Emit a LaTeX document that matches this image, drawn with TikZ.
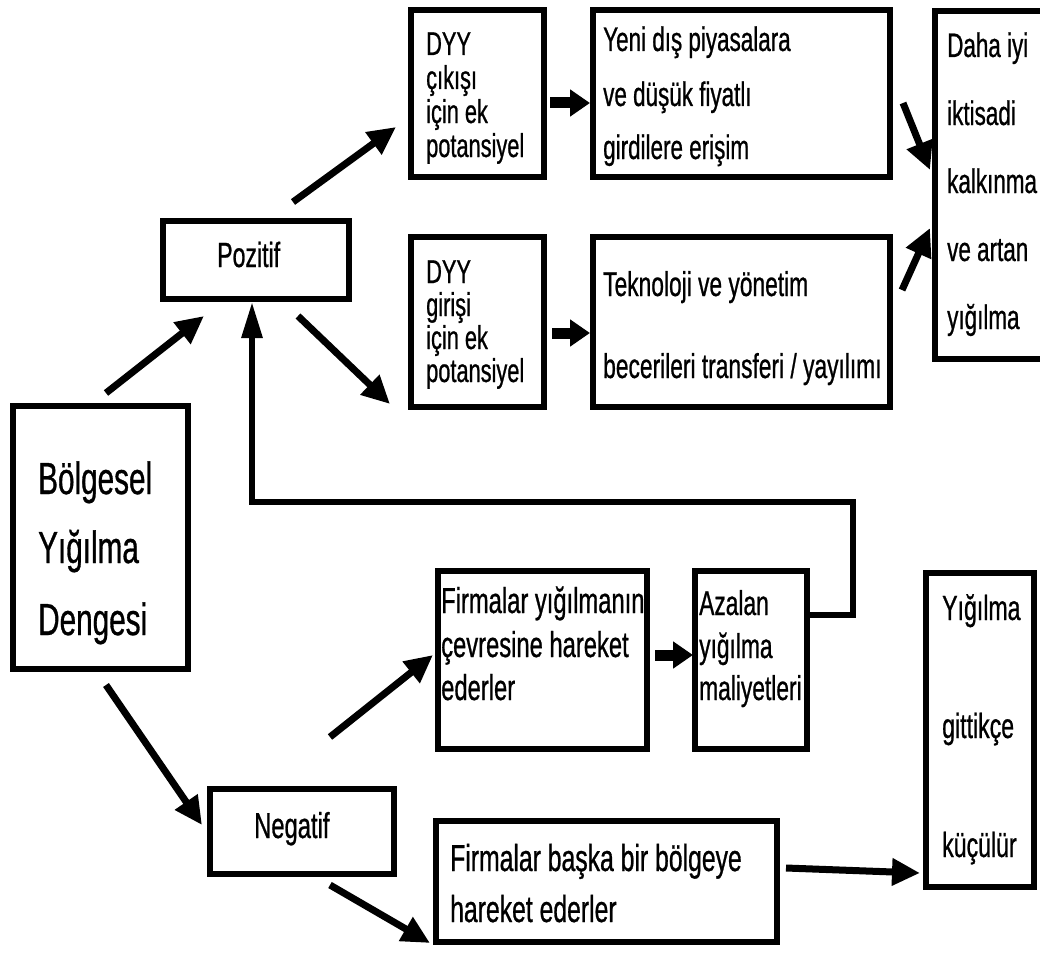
\documentclass[tikz,border=0pt]{standalone}
\usepackage{fontspec}
\setmainfont{Liberation Sans}[FakeStretch=0.66,FakeBold=0.7]
\usetikzlibrary{arrows.meta}
\begin{document}
\begin{tikzpicture}[x=1pt,y=-1pt,
  bx/.style={draw, line width=6pt, inner sep=0pt, minimum width=#1},
  tx/.style={anchor=base west, inner sep=0pt, font=\fontsize{#1pt}{#1pt}\selectfont},
  arr/.style={line width=7pt, -{Triangle[length=28pt,width=26pt]}},
  fat/.style={line width=11pt, -{Triangle[length=20pt,width=26pt]}},
  loopline/.style={line width=6pt, line join=miter, -{Triangle[length=36pt,width=20pt]}}]
\useasboundingbox[fill=white] (0,0) rectangle (1040,963);

% boxes
\node[bx=175pt, minimum height=263pt] (A)  at (100.5,537.5) {};
\node[bx=186pt, minimum height=78pt]  (P)  at (256,260) {};
\node[bx=184pt, minimum height=85pt]  (N)  at (302,831.5) {};
\node[bx=133pt, minimum height=167pt] (C1) at (477.5,93.5) {};
\node[bx=297pt, minimum height=167pt] (Y)  at (741.5,93.5) {};
\node[bx=108pt, minimum height=348pt] (D)  at (989,185) {};
\node[bx=133pt, minimum height=170pt] (G)  at (477.5,322) {};
\node[bx=297pt, minimum height=170pt] (T)  at (741.5,322) {};
\node[bx=209pt, minimum height=178pt] (F1) at (542.5,660) {};
\node[bx=112pt, minimum height=178pt] (Az) at (751,660) {};
\node[bx=341pt, minimum height=121pt] (F2) at (606.5,881.5) {};
\node[bx=108pt, minimum height=314pt] (K)  at (980,730) {};

% texts
\node[tx=45] (a1) at (38,494) {Bölgesel};
\node[tx=45] (a2) at (38,563) {Yığılma};
\node[tx=45] (a3) at (38,635) {Dengesi};
\node[tx=35] (p1) at (217,267) {Pozitif};
\node[tx=36] (n1) at (254,838) {Negatif};
\node[tx=33] (c1) at (426,55) {DYY};
\node[tx=33] (c2) at (426,89) {çıkışı};
\node[tx=33] (c3) at (426,123) {için ek};
\node[tx=33] (c4) at (426,157) {potansiyel};
\node[tx=34] (y1) at (603,51) {Yeni dış piyasalara};
\node[tx=34] (y2) at (603,106) {ve düşük fiyatlı};
\node[tx=34] (y3) at (603,159) {girdilere erişim};
\node[tx=34] (d1) at (947,57) {Daha iyi};
\node[tx=34] (d2) at (947,125) {iktisadi};
\node[tx=34] (d3) at (947,193) {kalkınma};
\node[tx=34] (d4) at (947,261) {ve artan};
\node[tx=34] (d5) at (947,329) {yığılma};
\node[tx=33] (g1) at (426,283) {DYY};
\node[tx=33] (g2) at (426,316) {girişi};
\node[tx=33] (g3) at (426,349) {için ek};
\node[tx=33] (g4) at (426,382) {potansiyel};
\node[tx=34.5] (t1) at (603,296) {Teknoloji ve yönetim};
\node[tx=34.5] (t2) at (603,378) {becerileri transferi / yayılımı};
\node[tx=36] (f1) at (441,613) {Firmalar yığılmanın};
\node[tx=36] (f2) at (441,657) {çevresine hareket};
\node[tx=36] (f3) at (441,700) {ederler};
\node[tx=34.5] (z1) at (699,615) {Azalan};
\node[tx=34.5] (z2) at (699,658) {yığılma};
\node[tx=34.5] (z3) at (699,700) {maliyetleri};
\node[tx=37.5] (h1) at (450,871) {Firmalar başka bir bölgeye};
\node[tx=37.5] (h2) at (450,922) {hareket ederler};
\node[tx=35] (k1) at (942,620) {Yığılma};
\node[tx=35] (k2) at (942,738) {gittikçe};
\node[tx=35] (k3) at (942,857) {küçülür};

% connector end points
\coordinate (AP0) at (106,393);  \coordinate (AP1) at (204,316);
\coordinate (PC0) at (293,202);  \coordinate (PC1) at (396,127);
\coordinate (PG0) at (298,316);  \coordinate (PG1) at (390,404);
\coordinate (CY0) at (550,103);  \coordinate (CY1) at (590,103);
\coordinate (GT0) at (552,333);  \coordinate (GT1) at (590,333);
\coordinate (YD0) at (903,103);  \coordinate (YD1) at (930,170);
\coordinate (TD0) at (902,290);  \coordinate (TD1) at (930,228);
\coordinate (AN0) at (106,685);  \coordinate (AN1) at (202,825);
\coordinate (NF0) at (330,737);  \coordinate (NF1) at (433,655);
\coordinate (FZ0) at (655,655);  \coordinate (FZ1) at (693,655);
\coordinate (NH0) at (330,885);  \coordinate (NH1) at (430,943);
\coordinate (HK0) at (786,868);  \coordinate (HK1) at (920,873);

\draw[arr] (AP0) -- (AP1);
\draw[arr] (PC0) -- (PC1);
\draw[arr] (PG0) -- (PG1);
\draw[fat] (CY0) -- (CY1);
\draw[fat] (GT0) -- (GT1);
\draw[arr] (YD0) -- (YD1);
\draw[arr] (TD0) -- (TD1);
\draw[arr] (AN0) -- (AN1);
\draw[arr] (NF0) -- (NF1);
\draw[fat] (FZ0) -- (FZ1);
\draw[arr] (NH0) -- (NH1);
\draw[arr] (HK0) -- (HK1);
\draw[loopline] (Az.east |- 0,615) -- (853,615) -- (853,502) -- (252,502) -- (P.south -| 252,0);
\end{tikzpicture}
\end{document}
